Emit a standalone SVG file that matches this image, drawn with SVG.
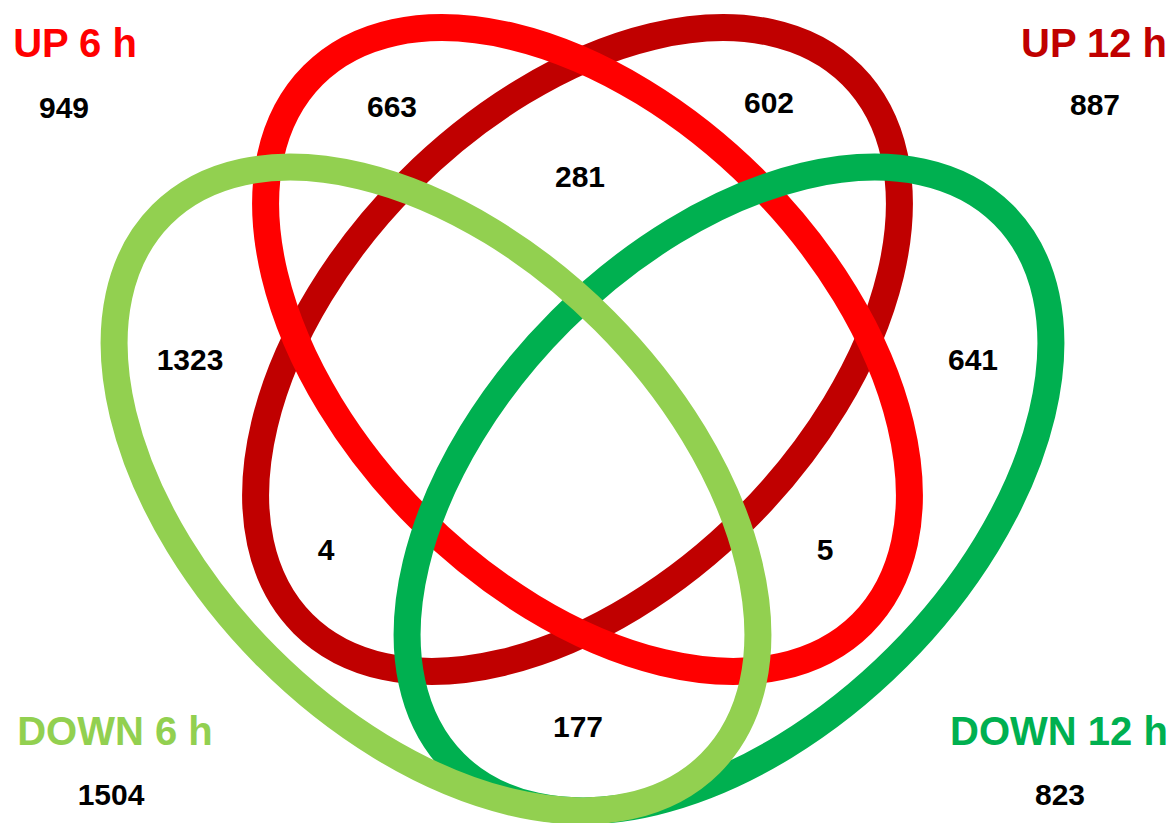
<svg xmlns="http://www.w3.org/2000/svg" width="1173" height="823" viewBox="0 0 1173 823">
<style>
.ring{fill:none;stroke-width:27}
.lbl{font-family:"Liberation Sans",Arial,sans-serif;font-weight:bold;font-size:40px;text-anchor:middle}
.num{font-family:"Liberation Sans",Arial,sans-serif;font-weight:bold;font-size:30px;text-anchor:middle;fill:#000}
</style>
<rect width="1173" height="823" fill="#fff"/>
<g id="connectors"></g>
<g id="set-up12h">
<ellipse class="ring" stroke="#C00000" cx="0" cy="0" rx="388" ry="238" transform="translate(577.5 349.5) rotate(-45)"/>
</g>
<g id="set-up6h">
<ellipse class="ring" stroke="#FF0000" cx="0" cy="0" rx="388" ry="238" transform="translate(587.5 349.5) rotate(45)"/>
</g>
<g id="set-down12h">
<ellipse class="ring" stroke="#00B050" cx="0" cy="0" rx="388" ry="238" transform="translate(729 489) rotate(-45)"/>
</g>
<g id="set-down6h">
<ellipse class="ring" stroke="#92D050" cx="0" cy="0" rx="388" ry="238" transform="translate(436 489) rotate(45)"/>
</g>
<g id="labels">
<text class="lbl" x="75" y="57" fill="#FF0000">UP 6 h</text>
<text class="lbl" x="1094" y="57" fill="#C00000">UP 12 h</text>
<text class="lbl" x="115" y="745" fill="#92D050">DOWN 6 h</text>
<text class="lbl" x="1059" y="745" fill="#00B050">DOWN 12 h</text>
</g>
<g id="counts">
<text class="num" x="64" y="118">949</text>
<text class="num" x="392" y="117">663</text>
<text class="num" x="769" y="113">602</text>
<text class="num" x="1095" y="115">887</text>
<text class="num" x="580" y="187">281</text>
<text class="num" x="190" y="370">1323</text>
<text class="num" x="973" y="370">641</text>
<text class="num" x="326" y="560">4</text>
<text class="num" x="825" y="560">5</text>
<text class="num" x="578" y="737">177</text>
<text class="num" x="111" y="805">1504</text>
<text class="num" x="1060" y="805">823</text>
</g>
</svg>
